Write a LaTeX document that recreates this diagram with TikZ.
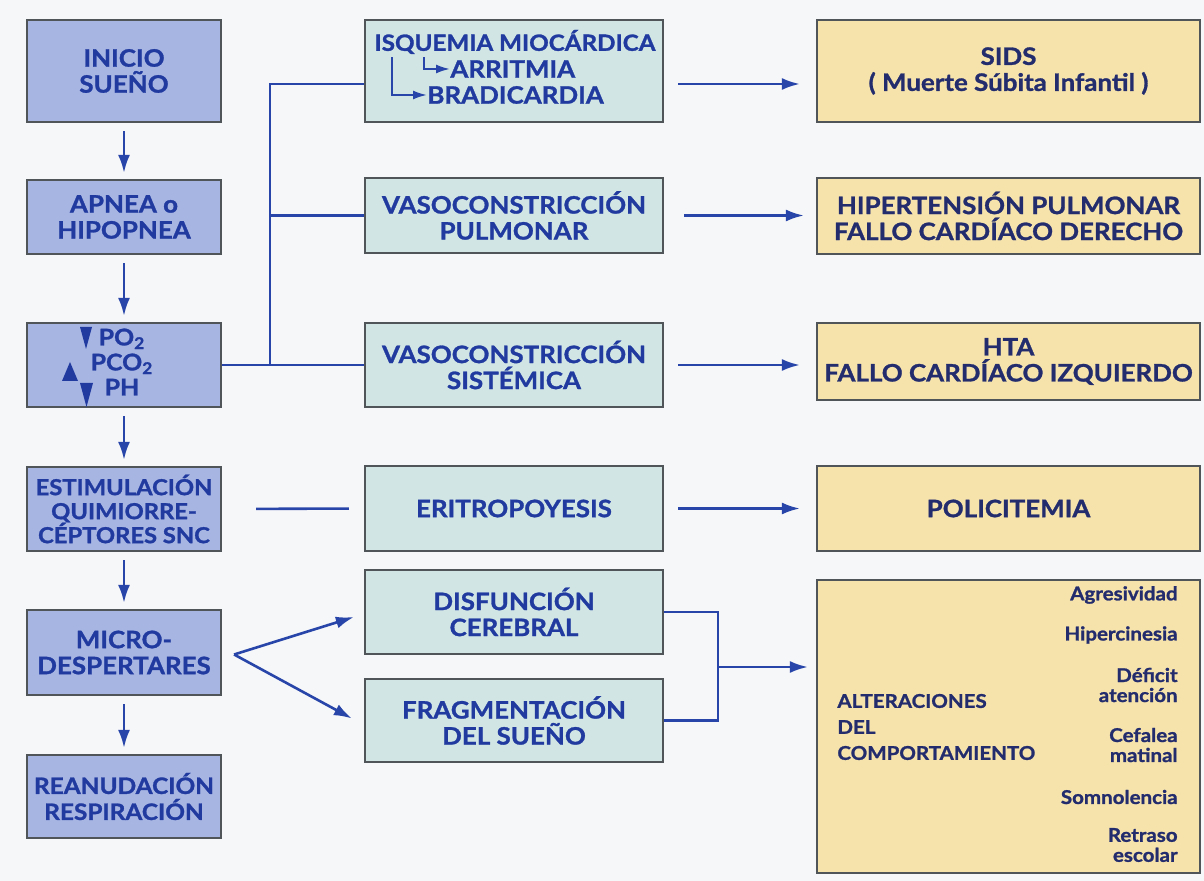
\documentclass[tikz,border=0pt]{standalone}
\usepackage{fontspec}
\setmainfont{Lato}[FakeStretch=1.08, BoldFeatures={FakeBold=1.2}]
\usetikzlibrary{arrows.meta,positioning,calc}
\definecolor{txtblue}{RGB}{32,58,160}
\definecolor{txtnavy}{RGB}{35,45,110}
\definecolor{lineblue}{RGB}{40,70,170}
\definecolor{leftfill}{RGB}{167,181,227}
\definecolor{midfill}{RGB}{209,230,228}
\definecolor{rightfill}{RGB}{246,227,172}
\definecolor{boxedge}{RGB}{80,85,90}
\definecolor{paper}{RGB}{246,247,248}

\begin{document}
\begin{tikzpicture}[x=0.5pt,y=-0.5pt,
    box/.style={draw=boxedge, line width=1.1pt, align=center, inner sep=2pt,
      text=txtblue, font=\bfseries\fontsize{12}{13}\selectfont},
    leftbox/.style={box, fill=leftfill, minimum width=97pt},
    midbox/.style={box, fill=midfill, minimum width=149pt},
    rightbox/.style={box, fill=rightfill, minimum width=191.5pt, text=txtnavy, inner sep=1pt,
      font=\bfseries\fontsize{12}{13}\selectfont},
    plain/.style={text=txtblue, font=\bfseries\fontsize{12}{12}\selectfont, inner sep=0pt},
    item/.style={text=txtnavy, font=\bfseries\fontsize{9.5}{10}\selectfont,
      align=right, inner sep=0pt, anchor=east},
    link/.style={draw=lineblue, line width=1.3pt},
    arrow/.style={link, -{Latex[length=9pt,width=6pt]}},
    tinyarrow/.style={link, line width=1pt, -{Latex[length=7pt,width=4.5pt]}},
  ]
  \fill[paper] (0,0) rectangle (1204,881);

  % left column
  \node[leftbox, minimum height=51pt] (inicio) at (124,71) {INICIO\\SUEÑO};
  \node[leftbox, minimum height=37pt] (apnea) at (124,217) {APNEA o\\HIPOPNEA};
  \node[leftbox, minimum height=42pt] (gases) at (124,365) {};
  \node[leftbox, minimum height=42pt, font=\bfseries\fontsize{11}{12}\selectfont] (estim) at (124,509)
    {ESTIMULACIÓN\\QUIMIORRE-\\CÉPTORES SNC};
  \node[leftbox, minimum height=42.5pt] (micro) at (124,652.5) {MICRO-\\DESPERTARES};
  \node[leftbox, minimum height=41.5pt, inner sep=1pt, font=\bfseries\fontsize{11.3}{13}\selectfont] (reanud)
    at (124,796.5) {REANUDACIÓN\\RESPIRACIÓN};

  % gases
  \node[plain, align=center, font=\bfseries\fontsize{11.5}{12.5}\selectfont] (gastxt) at (122,362)
    {PO\textsubscript{2}\\PCO\textsubscript{2}\\PH};
  \fill[txtblue] (80,327) -- (92,327) -- (86,349) -- cycle;
  \fill[txtblue] (70,362) -- (78,381) -- (62,381) -- cycle;
  \fill[txtblue] (80,383) -- (93,383) -- (86.5,407) -- cycle;

  \foreach \a/\b in {inicio/apnea,apnea/gases,gases/estim,estim/micro,micro/reanud}
    \draw[arrow, shorten <=4pt, shorten >=3pt] (\a) -- (\b);

  % middle column
  \node[midbox, minimum height=51pt] (isq) at (514,71) {};
  \node[plain, font=\bfseries\fontsize{11.2}{12}\selectfont] (isqt) at (515,42) {ISQUEMIA MIOCÁRDICA};
  \node[plain, anchor=west] (arr) at (450,69) {ARRITMIA};
  \node[plain, anchor=west] (bra) at (427,95) {BRADICARDIA};
  \draw[tinyarrow] ($(isqt.south west)+(18,3)$) |- (bra.west);
  \draw[tinyarrow] ($(isqt.south west)+(50,3)$) |- (arr.west);

  \node[midbox, minimum height=37.5pt] (vpulm) at (514,215.5) {VASOCONSTRICCIÓN\\PULMONAR};
  \node[midbox, minimum height=42pt] (vsist) at (514,365) {VASOCONSTRICCIÓN\\SISTÉMICA};
  \node[midbox, minimum height=42.5pt] (erit) at (514,508.5) {ERITROPOYESIS};
  \node[midbox, minimum height=42pt] (disf) at (514,612) {DISFUNCIÓN\\CEREBRAL};
  \node[midbox, minimum height=41.5pt] (frag) at (514,720.5) {FRAGMENTACIÓN\\DEL SUEÑO};

  % right column
  \node[rightbox, minimum height=51pt] (sids) at (1008.5,71) {SIDS\\( Muerte Súbita Infantil )};
  \node[rightbox, minimum height=38pt] (hipert) at (1008.5,216) {HIPERTENSIÓN PULMONAR\\FALLO CARDÍACO DERECHO};
  \node[rightbox, minimum height=38.5pt] (hta) at (1008.5,361.5) {HTA\\FALLO CARDÍACO IZQUIERDO};
  \node[rightbox, minimum height=42.5pt] (poli) at (1008.5,508.5) {POLICITEMIA};
  \node[rightbox, minimum height=146.5pt] (alter) at (1008.5,726.5) {};

  \node[plain, text=txtnavy, font=\bfseries\fontsize{9.5}{13}\selectfont, align=left, anchor=west] (altt)
    at (837,727) {ALTERACIONES\\DEL\\COMPORTAMIENTO};
  \node[item] (agr) at (1178,595) {Agresividad};
  \node[item] (hip) at (1178,635) {Hipercinesia};
  \node[item] (def) at (1178,685) {Déficit\\atención};
  \node[item] (cef) at (1178,745) {Cefalea\\matinal};
  \node[item] (som) at (1178,797) {Somnolencia};
  \node[item] (ret) at (1178,845) {Retraso\\escolar};

  % bus from gases
  \coordinate (bus) at (270,0);
  \draw[link] (gases.east) -- (vsist.west);
  \draw[link] ($(isq.west)+(0,13)$) -| (gases.east -| bus);
  \draw[link] (vpulm.west) -- (vpulm.west -| bus);
  \draw[link, shorten <=17pt, shorten >=7.5pt] (estim.east) -- (erit.west);

  % to consequences
  \draw[arrow, shorten <=7pt, shorten >=8pt] ($(isq.east)+(0,13)$) -- ($(sids.west)+(0,13)$);
  \draw[arrow, shorten <=10pt, shorten >=6pt] (vpulm.east) -- (vpulm.east -| hipert.west);
  \draw[arrow, shorten <=7pt, shorten >=8pt] (vsist.east) -- (vsist.east -| hta.west);
  \draw[arrow, shorten <=7pt, shorten >=8pt] (erit.east) -- (erit.east -| poli.west);

  % microdespertares fork
  \coordinate (fork) at ($(micro.east)+(12,2)$);
  \draw[arrow] (fork) -- ($(disf.west)+(-10,5)$);
  \draw[arrow] (fork) -- ($(frag.west)+(-12,-2)$);

  % join into alteraciones
  \coordinate (join) at (718,667);
  \draw[link] (disf.east) -| (join |- frag.east) -- (frag.east);
  \draw[arrow, shorten >=4pt] (join) -- (join -| alter.west);
\end{tikzpicture}
\end{document}
